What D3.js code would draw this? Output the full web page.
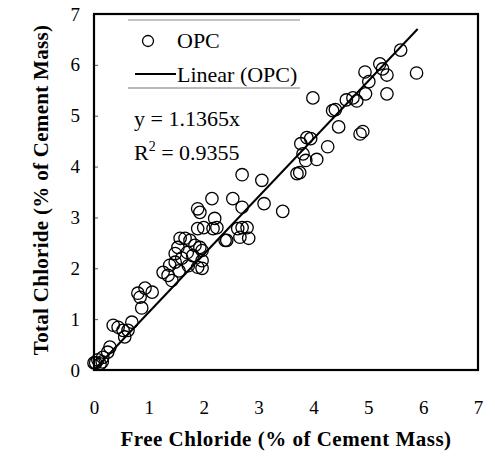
<!DOCTYPE html>
<html>
<head>
<meta charset="utf-8">
<script src="https://cdn.jsdelivr.net/npm/d3@7"></script>
<style>
  html, body { margin: 0; padding: 0; background: #fff; }
  svg { display: block; }
  svg text { font-family: "Liberation Serif", "Times New Roman", serif; fill: #000; }
</style>
</head>
<body>
<svg id="chart" width="495" height="462"></svg>
<script>
// Free vs total chloride, % of cement mass (OPC specimens)
const freeChloride = [
  0.00, 0.03, 0.11, 0.15, 0.07, 0.16, 0.25, 0.29, 0.35, 0.44, 0.53, 0.62, 0.56,
  0.69, 0.87, 0.84, 0.80, 0.93, 1.06,
  1.26, 1.35, 1.42, 1.38, 1.48, 1.48, 1.53, 1.57, 1.66, 1.75, 1.84, 1.93, 1.70,
  1.80, 1.89, 1.60, 1.72, 1.55, 1.89, 2.00, 1.97, 1.97, 1.97,
  1.89, 1.93, 2.15, 2.20, 2.17, 2.24,
  2.39, 2.42, 2.53, 2.62, 2.66, 2.70, 2.79, 2.82, 2.70, 3.06, 3.10, 3.44, 2.70,
  3.70, 3.75, 3.86, 3.81, 4.06, 3.77, 3.88, 3.95, 4.26, 4.46, 4.85, 4.90,
  4.35, 4.40, 3.99, 4.60, 4.72, 4.79, 4.95, 5.34, 5.01, 5.34, 4.94, 5.26,
  5.21, 5.88, 5.59
];
const totalChloride = [
  0.14, 0.14, 0.12, 0.16, 0.20, 0.25, 0.35, 0.45, 0.88, 0.84, 0.78, 0.78, 0.65,
  0.94, 1.22, 1.43, 1.51, 1.61, 1.53,
  1.92, 1.86, 1.76, 2.06, 2.12, 2.29, 2.41, 2.59, 2.59, 2.55, 2.45, 2.41, 2.31,
  2.25, 2.02, 2.20, 2.05, 1.95, 2.78, 2.80, 2.35, 2.15, 2.00,
  3.17, 3.10, 3.37, 2.98, 2.78, 2.80,
  2.55, 2.55, 3.37, 2.78, 2.61, 2.80, 2.80, 2.59, 3.20, 3.73, 3.27, 3.12, 3.84,
  3.86, 3.88, 4.12, 4.25, 4.14, 4.45, 4.57, 4.55, 4.39, 4.78, 4.64, 4.69,
  5.10, 5.12, 5.35, 5.31, 5.35, 5.29, 5.43, 5.43, 5.67, 5.80, 5.86, 5.92,
  6.02, 5.84, 6.29
];
const slope = 1.1365;            // linear fit through origin
const rSquared = 0.9355;
const fitRange = [0, 5.9];
const tickValues = [0, 1, 2, 3, 4, 5, 6, 7];
const seriesName = "OPC";
const trendName = "Linear (OPC)";
const xTitle = "Free Chloride (% of Cement Mass)";
const yTitle = "Total Chloride (% of Cement Mass)";

const serif = '"Liberation Serif", "Times New Roman", serif';
const svg = d3.select("#chart");
const plot = { left: 94, right: 478, top: 14, bottom: 370 };

const x = d3.scaleLinear().domain([0, 7]).range([plot.left, plot.right]);
const y = d3.scaleLinear().domain([0, 7]).range([plot.bottom, plot.top]);

// axes: short inner ticks, labels only
const yAxis = d3.axisLeft(y).tickValues(tickValues).tickSize(-4).tickPadding(14)
  .tickFormat(d3.format("d"));
const gy = svg.append("g").attr("transform", `translate(${plot.left},0)`).call(yAxis)
  .attr("font-family", serif).attr("font-size", 19);
gy.select(".domain").remove();
gy.selectAll("line").attr("stroke", "#555").attr("stroke-width", 1);
gy.selectAll("text").style("font-family", serif).style("font-size", "19px");

const xAxis = d3.axisBottom(x).tickValues(tickValues).tickSize(0).tickPadding(31)
  .tickFormat(d3.format("d"));
const gx = svg.append("g").attr("transform", `translate(0,${plot.bottom})`).call(xAxis)
  .attr("font-family", serif).attr("font-size", 19);
gx.select(".domain").remove();
gx.selectAll("text").style("font-family", serif).style("font-size", "19px");

// frame
svg.append("rect")
  .attr("x", plot.left).attr("y", plot.top)
  .attr("width", plot.right - plot.left).attr("height", plot.bottom - plot.top)
  .attr("fill", "none").attr("stroke", "#000").attr("stroke-width", 2.2);

// data points
const pts = freeChloride.map((f, i) => ({ f, t: totalChloride[i] }));
svg.append("g").selectAll("circle").data(pts).join("circle")
  .attr("cx", d => x(d.f)).attr("cy", d => y(d.t)).attr("r", 6.2)
  .attr("fill", "none").attr("stroke", "#000").attr("stroke-width", 1.3);

// trend line
const line = d3.line().x(d => x(d)).y(d => y(slope * d));
svg.append("path").datum(fitRange).attr("d", line)
  .attr("fill", "none").attr("stroke", "#000").attr("stroke-width", 2);

// legend
const lg = svg.append("g");
lg.append("line").attr("x1", 128).attr("x2", 300).attr("y1", 20).attr("y2", 20)
  .attr("stroke", "#888").attr("stroke-width", 1);
lg.append("line").attr("x1", 128).attr("x2", 300).attr("y1", 88).attr("y2", 88)
  .attr("stroke", "#777").attr("stroke-width", 1.2);
lg.append("circle").attr("cx", 148).attr("cy", 41).attr("r", 5.5)
  .attr("fill", "none").attr("stroke", "#000").attr("stroke-width", 1.3);
lg.append("text").attr("x", 177).attr("y", 48).style("font-size", "22px").text(seriesName);
lg.append("line").attr("x1", 135).attr("x2", 176).attr("y1", 74).attr("y2", 74)
  .attr("stroke", "#000").attr("stroke-width", 2);
lg.append("text").attr("x", 177).attr("y", 82).style("font-size", "22px").text(trendName);

// fit equation
svg.append("text").attr("x", 134).attr("y", 126).style("font-size", "22px")
  .text(`y = ${slope}x`);
const r2 = svg.append("text").attr("x", 134).attr("y", 160).style("font-size", "22px");
r2.append("tspan").text("R");
r2.append("tspan").attr("dy", -9).style("font-size", "14px").text("2");
r2.append("tspan").attr("dy", 9).text(` = ${rSquared}`);

// axis titles
svg.append("text").attr("x", 286).attr("y", 446).attr("text-anchor", "middle")
  .style("font-size", "21px").style("font-weight", "bold").style("letter-spacing", "0.5px")
  .text(xTitle);
svg.append("text").attr("transform", "translate(48,190) rotate(-90)")
  .attr("text-anchor", "middle").style("font-size", "21px").style("font-weight", "bold")
  .style("letter-spacing", "0.3px")
  .text(yTitle);
</script>
</body>
</html>
